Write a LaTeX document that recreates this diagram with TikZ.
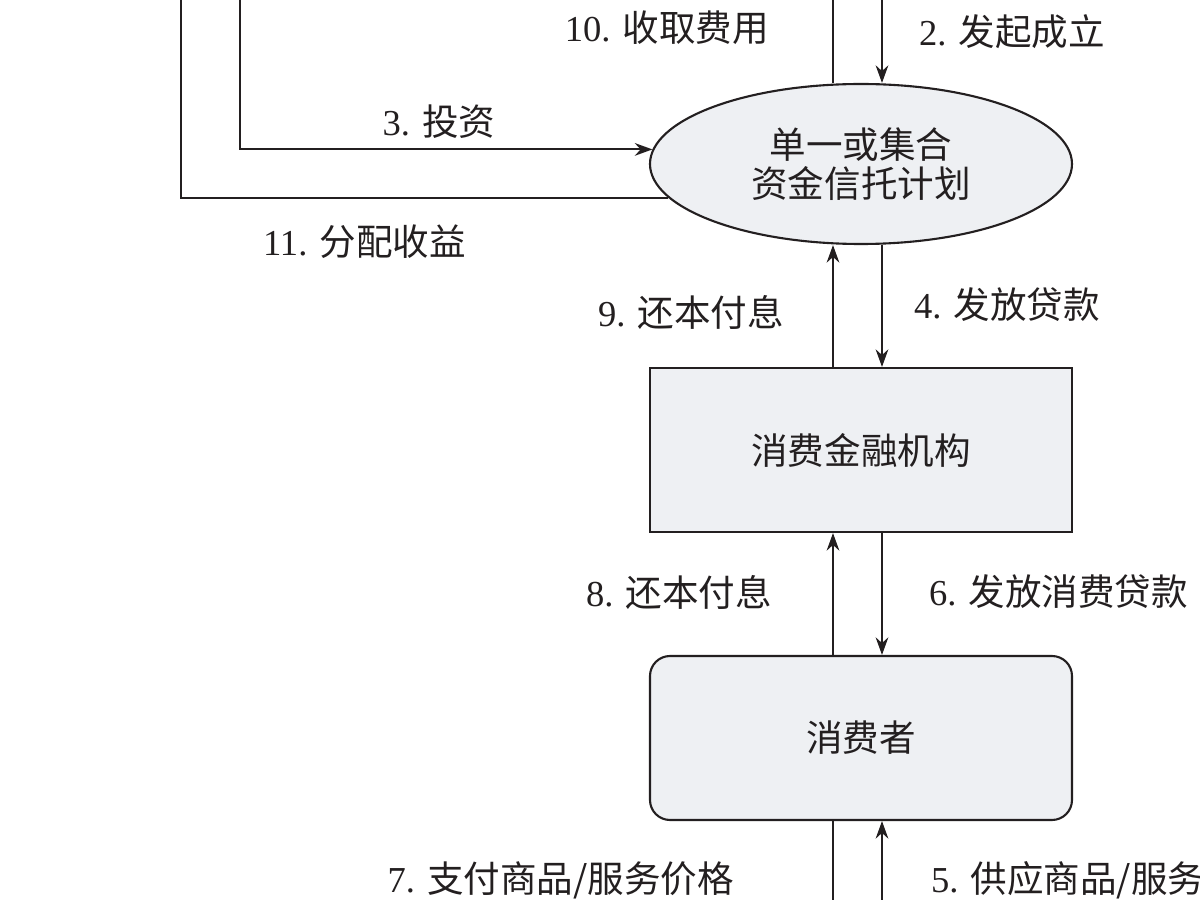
\documentclass[tikz,border=0pt]{standalone}
\usepackage{fontspec}
\setmainfont{Liberation Serif}
\newfontfamily\cjk{Noto Sans CJK SC}
\usetikzlibrary{shapes.geometric,arrows.meta}
\definecolor{boxfill}{HTML}{EEF0F3}
\definecolor{ink}{HTML}{231F20}
\begin{document}
\begin{tikzpicture}[line width=0.6pt,draw=ink,>={Stealth[length=5pt,width=3.6pt]},
  every node/.style={font=\fontsize{10.4}{11}\selectfont,text=ink},
  plan/.style={draw,fill=boxfill,ellipse,minimum width=4.22cm,minimum height=1.6cm,inner sep=0pt,align=center},
  inst/.style={draw,fill=boxfill,minimum width=4.22cm,minimum height=1.64cm,inner sep=0pt},
  user/.style={draw,fill=boxfill,rounded corners=0.2cm,minimum width=4.22cm,minimum height=1.64cm,inner sep=0pt},
  lab/.style={inner sep=0pt}]
\useasboundingbox (0,0) rectangle (12,9);
\node[plan,font=\fontsize{10.4}{11}\selectfont\cjk] (trust) at (8.61,7.36) {单一或集合\\资金信托计划};
\node[inst] (inst) at (8.61,4.50) {\cjk 消费金融机构}; \node[user] (user) at (8.61,1.62) {\cjk 消费者};
\coordinate (topL) at (8.33,9); \coordinate (topR) at (8.82,9); \coordinate (botL) at (8.33,0); \coordinate (botR) at (8.82,0);
\coordinate (inv) at (2.40,9); \coordinate (ret) at (1.81,9);
% main column
\draw (trust.north -| topL) -- (topL); \draw[->] (topR) -- (trust.north -| topR);
\draw[->] (inst.north -| topL) -- (trust.south -| topL); \draw[->] (trust.south -| topR) -- (inst.north -| topR);
\draw[->] (user.north -| topL) -- (inst.south -| topL); \draw[->] (inst.south -| topR) -- (user.north -| topR);
\draw (user.south -| botL) -- (botL); \draw[->] (botR) -- (user.south -| botR);
% investors on the left
\draw[->] (inv) |- (trust.176); \draw (trust.190) -| (ret);
\node[lab,anchor=east] (fee) at (7.70,8.72) {10. {\cjk 收取费用}}; \node[lab,anchor=west] (found) at (9.18,8.68) {2. {\cjk 发起成立}};
\node[lab] (invest) at (4.39,7.78) {3. {\cjk 投资}}; \node[lab,anchor=west] (payout) at (2.62,6.58) {11. {\cjk 分配收益}};
\node[lab,anchor=east] (repayA) at (7.85,5.88) {9. {\cjk 还本付息}}; \node[lab,anchor=west] (loan) at (9.13,5.95) {4. {\cjk 发放贷款}};
\node[lab,anchor=east] (repayB) at (7.73,3.08) {8. {\cjk 还本付息}}; \node[lab,anchor=west] (credit) at (9.28,3.08) {6. {\cjk 发放消费贷款}};
\node[lab,anchor=east] (pay) at (7.35,0.20) {7. {\cjk 支付商品/服务价格}}; \node[lab,anchor=west] (supply) at (9.30,0.20) {5. {\cjk 供应商品/服务}};
\end{tikzpicture}
\end{document}
